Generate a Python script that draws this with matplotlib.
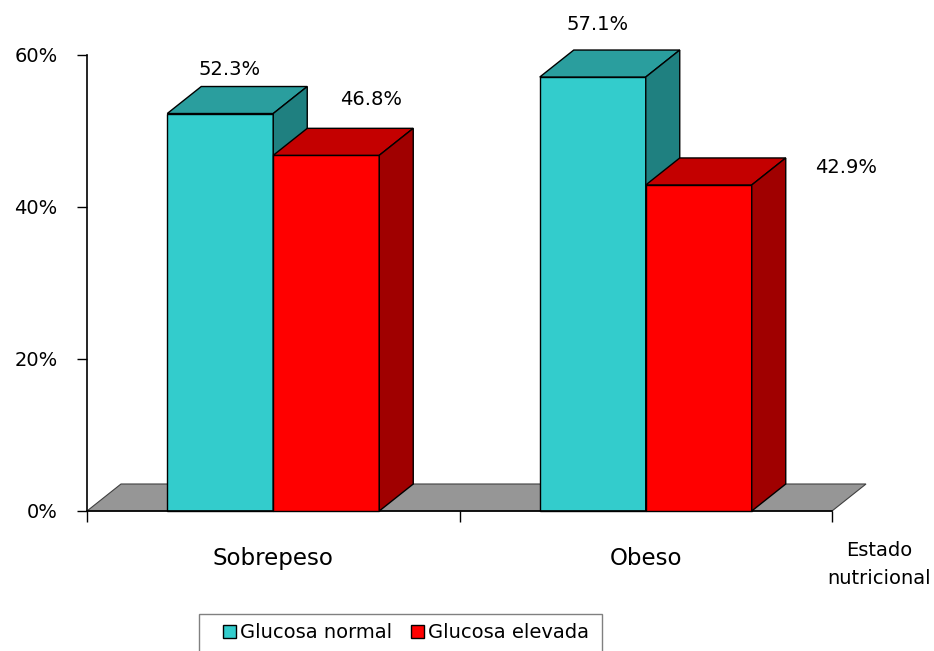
import matplotlib
matplotlib.use('Agg')
import matplotlib.pyplot as plt
from matplotlib.patches import Polygon, Patch, Rectangle

# ---------------- data ----------------
categories = ['Sobrepeso', 'Obeso']
series_names = ['Glucosa normal', 'Glucosa elevada']
glucosa_normal = [52.3, 57.1]
glucosa_elevada = [46.8, 42.9]
y_ticks = [0, 20, 40, 60]
y_tick_labels = ['0%', '20%', '40%', '60%']
x_axis_title = 'Estado\nnutricional'

# ---------------- styles ----------------
front_colors = ['#33CCCC', '#FF0000']
top_colors = ['#2A9E9E', '#C40000']
side_colors = ['#1F8080', '#A00000']
floor_color = '#969696'
# label offsets (pixels) from front-centre / top of each bar
label_offsets = [[(9, 44), (45, 56)], [(5, 53), (147, 17)]]

W, H = 934, 651
fig = plt.figure(figsize=(W / 100, H / 100), dpi=100)
L, R, T, B = 87, 832, 55, 511
ax = fig.add_axes([L / W, 1 - B / H, (R - L) / W, (B - T) / H])
ncat = len(categories)
ax.set_xlim(0, ncat)
ax.set_ylim(0, 60)

DX_PX, DY_PX = 34, 27
dx = DX_PX * ncat / (R - L)
dy = DY_PX * 60 / (B - T)
bw = 106 / ((R - L) / ncat)

# floor
floor = Polygon([(0, 0), (ncat, 0), (ncat + dx, dy), (dx, dy)], closed=True,
                facecolor=floor_color, edgecolor='#404040', lw=0.8,
                clip_on=False, zorder=1)
ax.add_patch(floor)

series = [glucosa_normal, glucosa_elevada]
for s, vals in enumerate(series):
    z = 2 + s
    xs = [i + 0.5 - bw + s * bw for i in range(ncat)]
    ax.bar(xs, vals, width=bw, align='edge', color=front_colors[s],
           edgecolor='black', lw=1, zorder=z, clip_on=False)
    for x0, v in zip(xs, vals):
        top = Polygon([(x0, v), (x0 + bw, v), (x0 + bw + dx, v + dy), (x0 + dx, v + dy)],
                      closed=True, facecolor=top_colors[s], edgecolor='black',
                      lw=1, clip_on=False, zorder=z)
        side = Polygon([(x0 + bw, 0), (x0 + bw, v), (x0 + bw + dx, v + dy), (x0 + bw + dx, dy)],
                       closed=True, facecolor=side_colors[s], edgecolor='black',
                       lw=1, clip_on=False, zorder=z)
        ax.add_patch(top)
        ax.add_patch(side)

# data labels
for s, vals in enumerate(series):
    for i, v in enumerate(vals):
        xc = i + 0.5 - bw / 2 + s * bw
        ox, oy = label_offsets[i][s]
        ax.annotate(f'{v:.1f}%', xy=(xc, v), xytext=(ox, oy), textcoords='offset pixels',
                    ha='center', va='center', fontsize=14, color='black', zorder=10,
                    annotation_clip=False)

# axes styling
for sp in ['top', 'right']:
    ax.spines[sp].set_visible(False)
ax.spines['left'].set_linewidth(1.2)
ax.spines['bottom'].set_linewidth(1.2)
ax.spines['left'].set_zorder(5)
ax.set_yticks(y_ticks)
ax.set_yticklabels(y_tick_labels, fontsize=14)
ax.tick_params(axis='y', direction='out', length=7.2, width=1, pad=14)
ax.set_xticks(range(ncat + 1))
ax.set_xticklabels([''] * (ncat + 1))
ax.tick_params(axis='x', which='major', direction='out', length=8, width=1)
ax.set_xticks([i + 0.5 for i in range(ncat)], minor=True)
ax.set_xticklabels(categories, minor=True, fontsize=16.5)
ax.tick_params(axis='x', which='minor', length=0, pad=26)
ax.set_facecolor('none')

fig.text(879 / W, 1 - 564 / H, x_axis_title, ha='center', va='center',
         fontsize=14, linespacing=1.6)

# legend box
fig.patches.append(Rectangle((199 / W, 1 - 665 / H), (602 - 199) / W, (665 - 614) / H,
                             transform=fig.transFigure, facecolor='white',
                             edgecolor='#808080', lw=1, zorder=0))
handles = [Patch(facecolor=front_colors[k], edgecolor='black', lw=1) for k in range(2)]
leg = fig.legend(handles, series_names, loc='center left',
                 bbox_to_anchor=(223 / W, 1 - 633 / H), ncol=2, frameon=False,
                 fontsize=14, handlelength=0.68, handleheight=0.68, handletextpad=0.2,
                 columnspacing=0.95, borderaxespad=0, borderpad=0)

fig.savefig('out.png', dpi=100)
